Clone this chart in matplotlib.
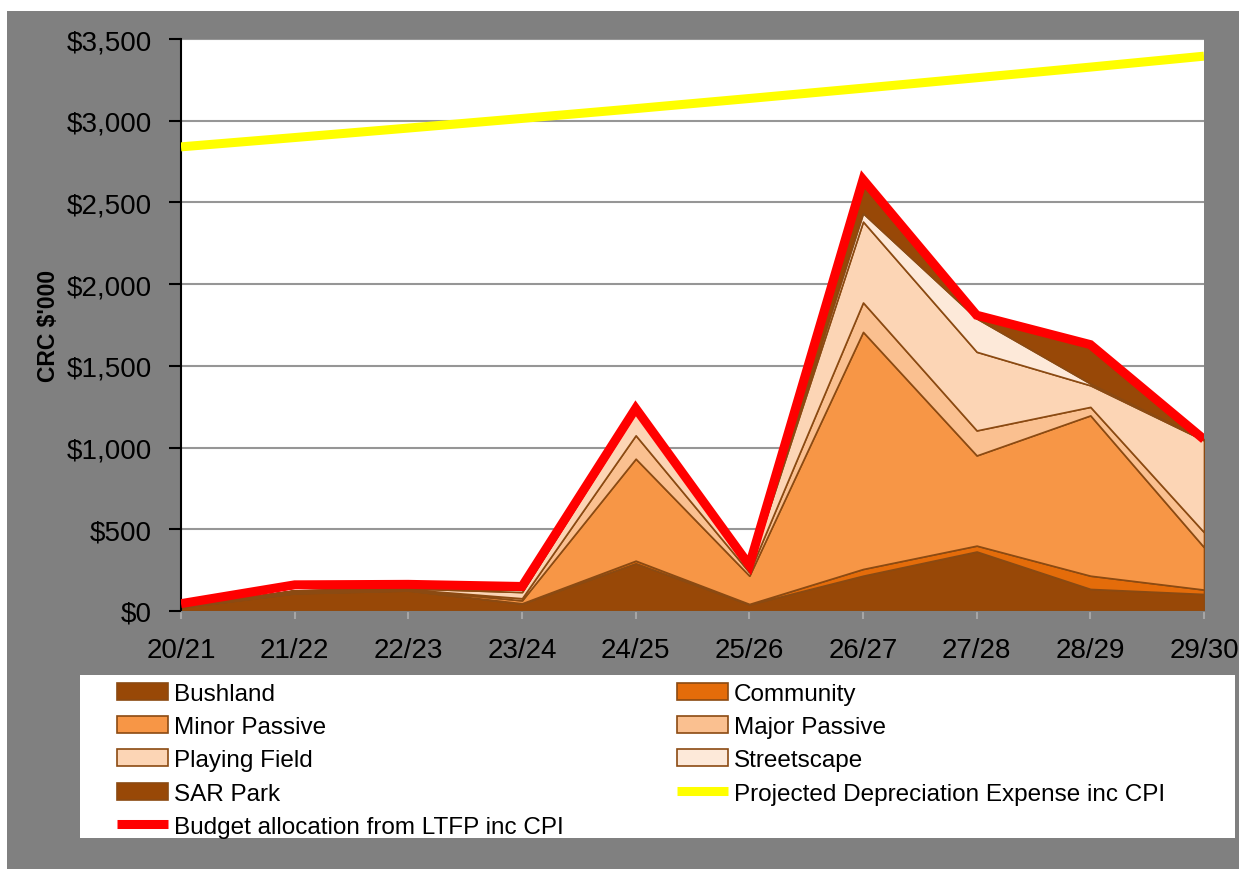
import matplotlib
matplotlib.use("Agg")
import matplotlib.pyplot as plt
from matplotlib.patches import Rectangle
from matplotlib.ticker import FuncFormatter

plt.rcParams['font.family'] = ['Liberation Sans', 'DejaVu Sans']

years = ['20/21', '21/22', '22/23', '23/24', '24/25', '25/26', '26/27', '27/28', '28/29', '29/30']

# renewal spend by asset class, $'000
bushland = [22, 108, 125, 45, 292, 40, 216, 364, 135, 104]
community = [0, 2, 2, 2, 16, 3, 41, 36, 81, 27]
minor_passive = [3, 8, 4, 18, 624, 173, 1451, 552, 981, 259]
major_passive = [0, 2, 2, 13, 143, 21, 180, 153, 52, 92]
playing_field = [3, 5, 5, 38, 140, 20, 495, 481, 132, 562]
streetscape = [0, 1, 1, 14, 10, 5, 51, 204, 11, 4]
sar_park = [0, 0, 0, 0, 0, 0, 186, 5, 228, 2]

depreciation = [2840, 2897, 2955, 3014, 3074, 3136, 3199, 3263, 3328, 3395]
budget = [45, 160, 163, 150, 1240, 280, 2640, 1810, 1630, 1050]

layers = [bushland, community, minor_passive, major_passive, playing_field, streetscape, sar_park]
names = ['Bushland', 'Community', 'Minor Passive', 'Major Passive',
         'Playing Field', 'Streetscape', 'SAR Park']
colors = ['#984807', '#E46C0A', '#F79646', '#FAC090', '#FCD5B5', '#FDE9D9', '#984807']

fig = plt.figure(figsize=(12.39, 8.70), dpi=100, facecolor='white')
# grey chart area with a thin white margin top and left
fig.patches.append(Rectangle((7 / 1239, 0), 1 - 7 / 1239, 1 - 12 / 870,
                             transform=fig.transFigure, facecolor='#808080',
                             edgecolor='none', zorder=-10))
# white legend box
fig.patches.append(Rectangle((80 / 1239, 1 - 839 / 870), 1155 / 1239, 163 / 870,
                             transform=fig.transFigure, facecolor='white',
                             edgecolor='none', zorder=-5))

ax = fig.add_axes([181 / 1239, 1 - 612 / 870, 1023 / 1239, 572 / 870])
ax.set_facecolor('white')

x = list(range(len(years)))
polys = ax.stackplot(x, *layers, labels=names, colors=colors,
                     edgecolor='#8B4A12', linewidth=1.2, zorder=2)
red, = ax.plot(x, budget, color='#FF0000', lw=6.5, solid_joinstyle='miter',
               solid_capstyle='butt', label='Budget allocation from LTFP inc CPI', zorder=3)
yel, = ax.plot(x, depreciation, color='#FFFF00', lw=6.5,
               solid_capstyle='butt', label='Projected Depreciation Expense inc CPI', zorder=4)

ax.set_xlim(0, 9)
ax.set_ylim(0, 3500)
ax.set_xticks(x)
ax.set_xticklabels(years)
ax.set_yticks(range(0, 3501, 500))
ax.yaxis.set_major_formatter(FuncFormatter(lambda v, p: '${:,.0f}'.format(v)))
ax.grid(axis='y', color='#969696', lw=1.5, zorder=0)
ax.set_axisbelow(True)

for s in ['top', 'right']:
    ax.spines[s].set_visible(False)
ax.spines['left'].set_color('black')
ax.spines['left'].set_linewidth(1.5)
ax.spines['bottom'].set_color('#808080')
ax.tick_params(axis='y', colors='black', labelsize=20, length=9, width=1.5, pad=12)
ax.tick_params(axis='x', colors='#a6a6a6', labelcolor='black', labelsize=20,
               length=6, width=1.5, pad=13)

ax.set_ylabel("CRC $'000", fontsize=16.5, fontweight='bold')
ax.yaxis.set_label_coords(-0.118, 0.5)

# legend in two columns, Excel row order
left = [polys[0], polys[2], polys[4], polys[6], red]
left_lbl = ['Bushland', 'Minor Passive', 'Playing Field', 'SAR Park',
            'Budget allocation from LTFP inc CPI']
right = [polys[1], polys[3], polys[5], yel]
right_lbl = ['Community', 'Major Passive', 'Streetscape',
             'Projected Depreciation Expense inc CPI']
opts = dict(loc='upper left', frameon=False, fontsize=17.5, borderpad=0,
            borderaxespad=0, handlelength=2.1, handletextpad=0.25,
            labelspacing=0.46)
fig.legend(left, left_lbl, bbox_to_anchor=(117 / 1239, 1 - 684 / 870), **opts)
fig.legend(right, right_lbl, bbox_to_anchor=(677 / 1239, 1 - 684 / 870), **opts)

fig.savefig('out.png', dpi=100, facecolor=fig.get_facecolor())
